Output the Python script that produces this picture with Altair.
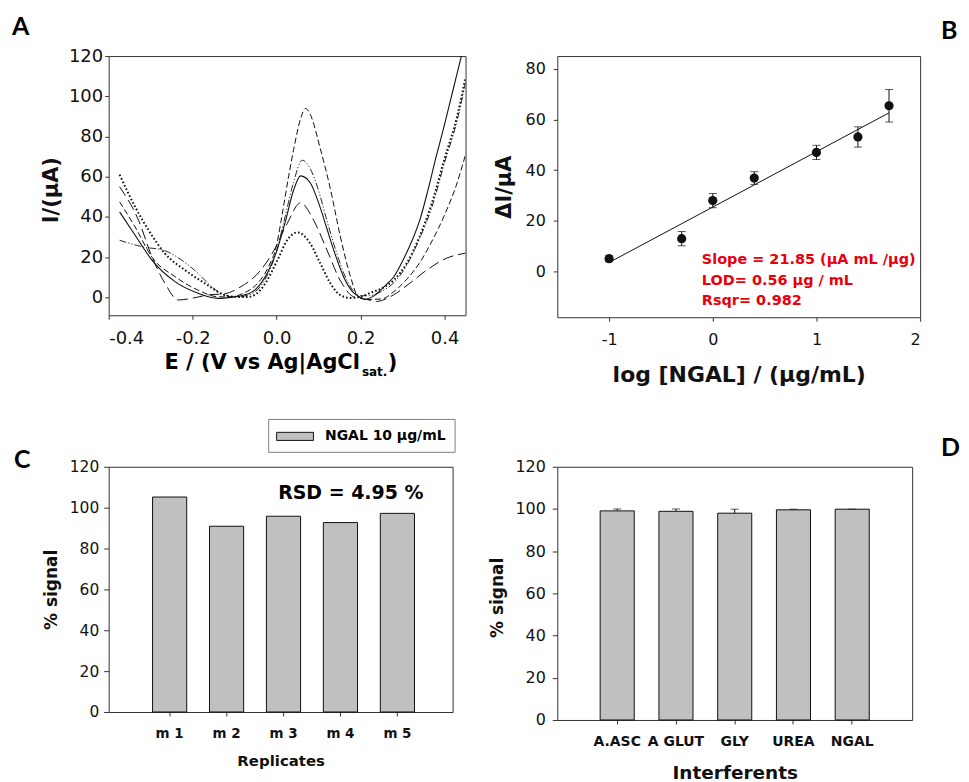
import altair as alt
import pandas as pd

FONT = "DejaVu Sans"
LETTER_FONT = "Lato"
INK = "#111111"
FRAME = "#333333"
BAR_FILL = "#c0c0c0"
RED = "#e8000b"
MINUS_FIX = "replace(datum.label, '\u2212', '-')"

# ---------------- Panel A: voltammograms ----------------
A_solid_E = [-0.374, -0.337, -0.297, -0.242, -0.187, -0.14, -0.11, -0.08, -0.05, -0.02, 0.0, 0.02, 0.04, 0.057,
             0.08, 0.1, 0.12, 0.14, 0.16, 0.18, 0.195, 0.21, 0.23, 0.262, 0.28, 0.301, 0.32, 0.341, 0.36, 0.38,
             0.4, 0.42, 0.44, 0.45]
A_solid_I = [42.5, 30.9, 18.5, 7.8, 2.0, -0.5, 0.0, 1.0, 4.0, 13.0, 23.0, 37.0, 53.0, 60.4,
             57.0, 47.0, 34.0, 21.0, 10.0, 3.0, 0.5, -1.0, 0.5, 6.5, 10.5, 18.5, 27.0, 38.4, 53.0, 70.0,
             86.0, 103.0, 120.0, 129.0]

A_dash94_E = [-0.374, -0.337, -0.297, -0.242, -0.187, -0.14, -0.11, -0.08, -0.05, -0.02, 0.0, 0.013, 0.029,
              0.041, 0.057, 0.069, 0.08, 0.104, 0.128, 0.151, 0.175, 0.194, 0.22, 0.25, 0.28, 0.31, 0.34,
              0.37, 0.4, 0.43, 0.45]
A_dash94_I = [47.5, 35.0, 20.0, 10.3, 3.6, 0.3, 0.2, 2.0, 6.0, 15.0, 26.0, 41.0, 60.7,
              74.0, 88.8, 94.0, 91.0, 74.0, 54.0, 31.0, 11.0, 0.5, -1.0, -0.8, 3.0, 9.0, 17.0,
              28.0, 41.0, 57.0, 71.0]

A_dd68_E = [-0.374, -0.321, -0.266, -0.226, -0.187, -0.155, -0.124, -0.1, -0.08, -0.05, -0.02, 0.0, 0.02,
            0.04, 0.061, 0.08, 0.1, 0.12, 0.14, 0.16, 0.18, 0.2, 0.22, 0.25, 0.28, 0.31, 0.34, 0.37, 0.4,
            0.43, 0.45]
A_dd68_I = [28.4, 25.2, 23.2, 18.5, 11.9, 5.3, 1.2, 0.0, 0.5, 3.0, 12.0, 23.0, 40.0,
            57.0, 68.2, 64.0, 53.0, 38.0, 24.0, 12.0, 4.0, 0.8, 0.8, 3.0, 7.5, 16.0, 29.0, 45.0, 67.0,
            88.0, 107.0]

A_ld47_E = [-0.374, -0.329, -0.297, -0.266, -0.234, -0.203, -0.163, -0.124, -0.085, -0.038, -0.006, 0.025,
            0.057, 0.088, 0.12, 0.151, 0.183, 0.214, 0.238, 0.278, 0.317, 0.357, 0.404, 0.45]
A_ld47_I = [55.0, 38.4, 20.2, 7.0, -1.3, -0.5, 1.2, 1.8, 5.3, 13.5, 23.5, 36.7,
            47.0, 38.4, 23.5, 8.6, 0.3, -1.0, -2.0, 1.2, 7.0, 13.5, 19.4, 22.0]

A_dot32_E = [-0.374, -0.337, -0.305, -0.266, -0.218, -0.171, -0.124, -0.1, -0.07, -0.05, -0.03, 0.002,
             0.025, 0.05, 0.08, 0.104, 0.128, 0.151, 0.175, 0.2, 0.22, 0.25, 0.28, 0.31, 0.34, 0.37, 0.4,
             0.43, 0.45]
A_dot32_I = [61.0, 45.0, 33.4, 21.8, 13.5, 7.0, 1.2, 0.3, 0.2, 1.5, 6.0, 18.5,
             28.4, 32.3, 26.8, 16.9, 7.0, 1.2, -0.3, 0.3, 2.0, 4.5, 8.8, 17.0, 30.0, 47.0, 69.0,
             90.0, 109.5]

A_XTICKS = [-0.4, -0.2, 0.0, 0.2, 0.4]
A_YTICKS = [0, 20, 40, 60, 80, 100, 120]

# ---------------- Panel B: calibration ----------------
B_logc = [-1.0, -0.3, 0.0, 0.4, 1.0, 1.4, 1.7]
B_dI = [5.1, 13.0, 28.0, 36.9, 47.0, 53.1, 65.4]
B_err = [1.2, 2.8, 2.8, 2.5, 2.8, 4.0, 6.4]
B_fit_x = [-1.0, 1.7]
B_fit_y = [3.6, 62.6]
B_XTICKS = [-1, 0, 1, 2]
B_YTICKS = [0, 20, 40, 60, 80]
B_NOTE = "Slope = 21.85 (\u00b5A mL /\u00b5g)\nLOD= 0.56 \u00b5g / mL\nRsqr= 0.982"

# ---------------- Panel C: replicates ----------------
C_reps = ["m 1", "m 2", "m 3", "m 4", "m 5"]
C_signal = [105.2, 90.9, 95.8, 92.7, 97.2]
C_LEGEND = "NGAL 10 \u00b5g/mL"
C_NOTE = "RSD = 4.95 %"

# ---------------- Panel D: interferents ----------------
D_names = ["A.ASC", "A GLUT", "GLY", "UREA", "NGAL"]
D_signal = [99.1, 98.9, 98.0, 99.6, 99.9]
D_err = [0.9, 1.1, 1.9, 0.3, 0.0]
BAR_YTICKS = [0, 20, 40, 60, 80, 100, 120]

# layout (plot-area sizes and gaps)
ROW_GAP = 150
COL_GAP = 92
A_W, A_H = 358, 260
B_W, B_H = 364, 262
C_W, C_H = 345, 246
D_W, D_H = 356, 254


def letter(ch, x, y):
    return alt.Chart(pd.DataFrame({"t": [ch]})).mark_text(
        font=LETTER_FONT, fontSize=25, fontWeight="bold", align="left", baseline="top", color="black"
    ).encode(x=alt.value(x), y=alt.value(y), text="t:N")


def note(txt, x, y, size, color="black", align="left", baseline="alphabetic", line_height=None):
    kw = dict(font=FONT, fontSize=size, fontWeight="bold", align=align, baseline=baseline, color=color)
    if line_height:
        kw["lineBreak"] = "\n"
        kw["lineHeight"] = line_height
    return alt.Chart(pd.DataFrame({"t": [txt]})).mark_text(**kw).encode(
        x=alt.value(x), y=alt.value(y), text="t:N")


# ---------- A ----------
axA_x = alt.Axis(values=A_XTICKS, format=".1f", labelExpr=MINUS_FIX, title=None, tickSize=4,
                 labelPadding=10, labelFontSize=18)
axA_y = alt.Axis(values=A_YTICKS, tickSize=4, labelPadding=2, labelFontSize=18, title="I/(\u00b5A)",
                 titleFontSize=21, titleX=-57, titleY=134, titleAngle=270, titleAlign="center",
                 titleBaseline="middle")
scA_x = alt.Scale(domain=[-0.4, 0.45], nice=False, zero=False)
scA_y = alt.Scale(domain=[-8.9, 120], nice=False, zero=False)

A_styles = [
    (A_solid_E, A_solid_I, None, 1.1),
    (A_dash94_E, A_dash94_I, [6, 3], 1.0),
    (A_dd68_E, A_dd68_I, [7, 2, 1.2, 2, 1.2, 2], 0.9),
    (A_ld47_E, A_ld47_I, [11, 5], 1.0),
    (A_dot32_E, A_dot32_I, [1.6, 2.2], 2.0),
]
layersA = []
for E, I, dash, w in A_styles:
    kw = dict(clip=True, color=INK, strokeWidth=w, interpolate="monotone")
    if dash:
        kw["strokeDash"] = dash
    layersA.append(
        alt.Chart(pd.DataFrame({"E": E, "I": I})).mark_line(**kw).encode(
            x=alt.X("E:Q", scale=scA_x, axis=axA_x),
            y=alt.Y("I:Q", scale=scA_y, axis=axA_y),
        )
    )
layersA += [
    note("E / (V vs Ag|AgCl", 252, 313.7, 21, align="right"),
    note("sat.", 254, 320.5, 12),
    note(")", 280, 313.7, 21),
    letter("A", -97, -40.8),
]
A = alt.layer(*layersA).properties(width=A_W, height=A_H)

# ---------- B ----------
dfB = pd.DataFrame({
    "x": B_logc, "y": B_dI,
    "lo": [v - e for v, e in zip(B_dI, B_err)],
    "hi": [v + e for v, e in zip(B_dI, B_err)],
})
scB_x = alt.Scale(domain=[-1.5, 2], nice=False, zero=False)
scB_y = alt.Scale(domain=[-18, 85], nice=False, zero=False)
axB_x = alt.Axis(values=B_XTICKS, labelExpr=MINUS_FIX, tickSize=4, labelPadding=10, labelFontSize=16,
                 title="log [NGAL] / (\u00b5g/mL)", titleFontSize=22, titleX=182, titleY=64,
                 titleAlign="center", titleBaseline="alphabetic")
axB_y = alt.Axis(values=B_YTICKS, tickSize=4, labelPadding=8, labelFontSize=16, title="\u0394I/\u00b5A",
                 titleFontSize=21, titleX=-53, titleY=131, titleAngle=270, titleAlign="center",
                 titleBaseline="middle")


def bx(f):
    return alt.X(f + ":Q", scale=scB_x, axis=axB_x)


def by(f):
    return alt.Y(f + ":Q", scale=scB_y, axis=axB_y)


fitB = alt.Chart(pd.DataFrame({"x": B_fit_x, "y": B_fit_y})).mark_line(color=INK, strokeWidth=1).encode(
    x=bx("x"), y=by("y"))
errB = alt.Chart(dfB).mark_rule(color=INK, strokeWidth=1).encode(x=bx("x"), y=by("lo"), y2="hi:Q")
capLo = alt.Chart(dfB).mark_tick(orient="horizontal", size=8, thickness=1, color=INK).encode(
    x=bx("x"), y=by("lo"))
capHi = alt.Chart(dfB).mark_tick(orient="horizontal", size=8, thickness=1, color=INK).encode(
    x=bx("x"), y=by("hi"))
ptsB = alt.Chart(dfB).mark_circle(size=85, color=INK, opacity=1).encode(x=bx("x"), y=by("y"))
B = alt.layer(
    fitB, errB, capLo, capHi, ptsB,
    note(B_NOTE, 145, 209, 14.5, color=RED, line_height=20.5),
    letter("B", 385, -36.8),
).properties(width=B_W, height=B_H)

# ---------- C ----------
dfC = pd.DataFrame({"rep": C_reps, "signal": C_signal, "series": [C_LEGEND] * len(C_reps)})
axC_x = alt.Axis(labelAngle=0, labelFontWeight="bold", labelFontSize=13.5, tickSize=4, labelPadding=11,
                 title="Replicates", titleFontSize=15, titleX=172.5, titleY=53.7, titleAlign="center",
                 titleBaseline="alphabetic")
axC_y = alt.Axis(values=BAR_YTICKS, tickSize=5, labelPadding=5, labelFontSize=15.5, title="% signal",
                 titleFontSize=17, titleX=-57, titleY=123, titleAngle=270, titleAlign="center",
                 titleBaseline="middle")
# legend position is measured from the top-left of the whole grid (panel A's plot corner)
barsC = alt.Chart(dfC).mark_bar(stroke=INK, strokeWidth=1).encode(
    x=alt.X("rep:N", sort=C_reps, scale=alt.Scale(paddingInner=0.4, paddingOuter=0.72, align=0.535),
            axis=axC_x),
    y=alt.Y("signal:Q", scale=alt.Scale(domain=[0, 120], nice=False), axis=axC_y),
    color=alt.Color("series:N", scale=alt.Scale(range=[BAR_FILL]), legend=alt.Legend(
        title=None, orient="none", legendX=160, legendY=max(A_H, B_H) + ROW_GAP - 48, padding=8,
        strokeColor="#808080", fillColor="white", symbolType="M-1,-0.45H3.1V0.45H-1Z", symbolSize=324,
        symbolStrokeColor=INK, symbolStrokeWidth=1, labelOffset=30, labelFont=FONT,
        labelFontSize=14, labelFontWeight="bold", labelColor="black")),
)
C = alt.layer(
    barsC,
    note(C_NOTE, 170, 32.3, 19),
    letter("C", -95, -18.8),
).properties(width=C_W, height=C_H)

# ---------- D ----------
dfD = pd.DataFrame({"name": D_names, "signal": D_signal,
                    "top": [v + e for v, e in zip(D_signal, D_err)]})
axD_x = alt.Axis(labelAngle=0, labelFontWeight="bold", labelFontSize=14, tickSize=4, labelPadding=11,
                 title="Interferents", titleFontSize=18.5, titleX=178, titleY=59, titleAlign="center",
                 titleBaseline="alphabetic")
axD_y = alt.Axis(values=BAR_YTICKS, tickSize=5, labelPadding=7, labelFontSize=16, title="% signal",
                 titleFontSize=17, titleX=-60, titleY=131, titleAngle=270, titleAlign="center",
                 titleBaseline="middle")
xD = alt.X("name:N", sort=D_names, scale=alt.Scale(paddingInner=0.42, paddingOuter=0.73), axis=axD_x)
scD_y = alt.Scale(domain=[0, 120], nice=False)
barsD = alt.Chart(dfD).mark_bar(fill=BAR_FILL, stroke=INK, strokeWidth=1).encode(
    x=xD, y=alt.Y("signal:Q", scale=scD_y, axis=axD_y))
errD = alt.Chart(dfD).mark_rule(color=INK, strokeWidth=1).encode(
    x=xD, y=alt.Y("signal:Q", scale=scD_y, axis=axD_y), y2="top:Q")
capD = alt.Chart(dfD).mark_tick(size=8, thickness=1, color=INK).encode(
    x=xD, y=alt.Y("top:Q", scale=scD_y, axis=axD_y))
D = alt.layer(barsD, errD, capD, letter("D", 385, -30.8)).properties(width=D_W, height=D_H)

chart = alt.concat(
    A, B, C, D, columns=2, spacing={"row": ROW_GAP, "column": COL_GAP}, bounds="flush", align="each"
).properties(
    padding={"left": 3, "top": 5, "right": 0, "bottom": 0},
    background="white",
).configure_view(stroke=FRAME, strokeWidth=1).configure_axis(
    domain=False, grid=False, tickColor=FRAME, tickWidth=1, labelColor="#111111", titleColor="#111111",
    labelFont=FONT, titleFont=FONT, titleFontWeight="bold"
)

chart.save("out.html", embed_options={"renderer": "svg", "actions": False})
